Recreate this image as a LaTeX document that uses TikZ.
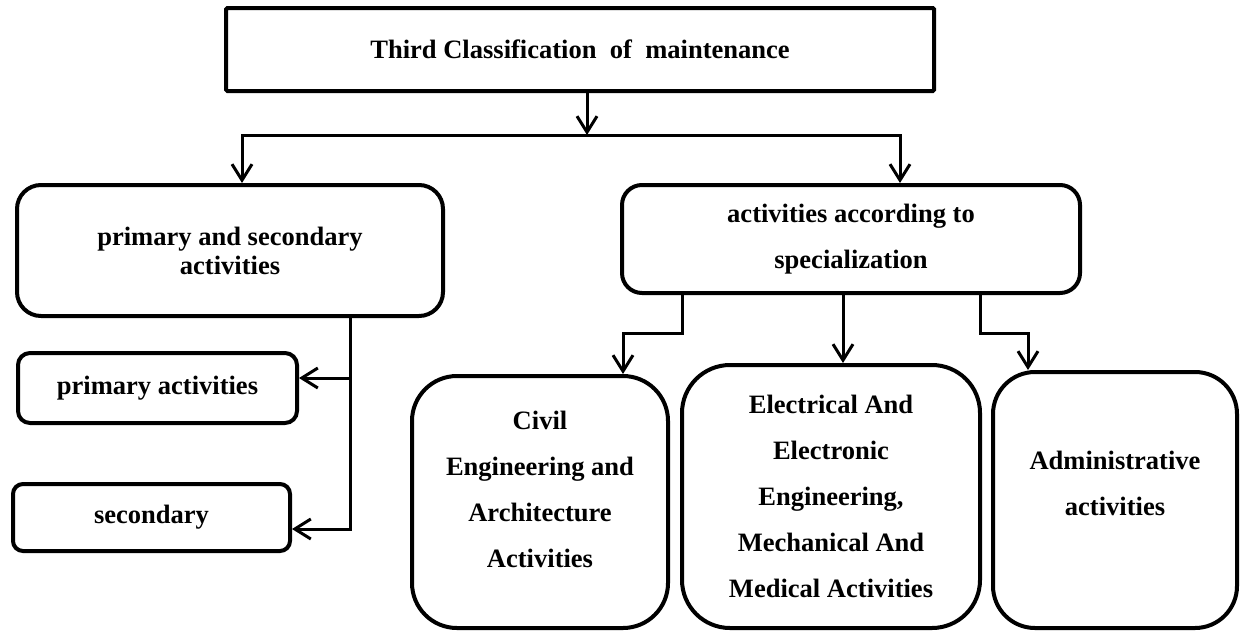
\documentclass[tikz,border=0pt]{standalone}
\usepackage{fontspec}
\setmainfont{Liberation Serif}
\usetikzlibrary{arrows.meta}
\begin{document}
\begin{tikzpicture}[x=0.75pt,y=-0.75pt,
  box/.style={draw, line width=3pt, inner sep=0pt, align=center,
    font=\fontsize{19.9}{34.5}\selectfont\bfseries},
  txt/.style={align=center, inner sep=0pt,
    font=\fontsize{19.9}{34.5}\selectfont\bfseries},
  conn/.style={line width=2.25pt},
  arr/.style={conn, -{Straight Barb[length=12pt,width=15pt]}},
  arrboth/.style={conn, {Straight Barb[length=12pt,width=15pt]}-{Straight Barb[length=12pt,width=15pt]}},
]
\useasboundingbox (0,0) rectangle (1248,632);

% boxes
\node[box, minimum width=531pt, minimum height=62.25pt, rounded corners=1pt] (top) at (580,49.5)
  {Third Classification\ \ of\ \ maintenance};
\node[box, minimum width=319.5pt, minimum height=98.25pt, rounded corners=18pt,
  font=\fontsize{19.9}{21.75}\selectfont\bfseries] (psa) at (230,250.5)
  {primary and secondary\\activities};
\node[box, minimum width=343.5pt, minimum height=81pt, rounded corners=15pt] (spec) at (851,239)
  {activities according to\\specialization};
\node[box, minimum width=209.25pt, minimum height=52.5pt, rounded corners=9pt] (primary) at (157.5,388)
  {primary activities};
\node[box, minimum width=207.75pt, minimum height=50.25pt, rounded corners=7.5pt] (secondary) at (151.5,517.5)
  {secondary};
\node[box, minimum width=192pt, minimum height=189pt, rounded corners=33.75pt] (civil) at (540,502) {};
\node[txt] (civiltxt) at (540,489) {Civil\\Engineering and\\Architecture\\Activities};
\node[box, minimum width=223.5pt, minimum height=197.25pt, rounded corners=36pt] (elec) at (831,496.5)
  {Electrical And\\Electronic\\Engineering,\\Mechanical And\\Medical Activities};
\node[box, minimum width=183pt, minimum height=192pt, rounded corners=31.5pt] (admin) at (1115,500) {};
\node[txt] (admintxt) at (1115,483) {Administrative\\activities};

% top connectors
\coordinate (j) at (587,135);
\coordinate (jl) at (242,135);
\coordinate (jr) at (900,135);
\draw[arr] (top.south -| j) -- (j);
\draw[arrboth] (jl |- psa.north) -- (jl) -- (jr) -- (jr |- spec.north);

% specialization connectors
\coordinate (s1) at (682,333);
\coordinate (c1) at (623,333);
\coordinate (m1) at (843,333);
\coordinate (s3) at (980,333);
\coordinate (a1) at (1028,333);
\draw[arr] (spec.south -| s1) -- (s1) -- (c1) -- (c1 |- civil.north);
\draw[arr] (spec.south -| m1) -- (m1 |- elec.north);
\draw[arr] (spec.south -| s3) -- (s3) -- (a1) -- (a1 |- admin.north);

% primary / secondary connectors
\coordinate (v1) at (350,378);
\coordinate (v2) at (350,529);
\draw[arr] (psa.south -| v1) -- (v2) -- (v2 -| secondary.east);
\draw[arr] (v1) -- (v1 -| primary.east);
\end{tikzpicture}
\end{document}
